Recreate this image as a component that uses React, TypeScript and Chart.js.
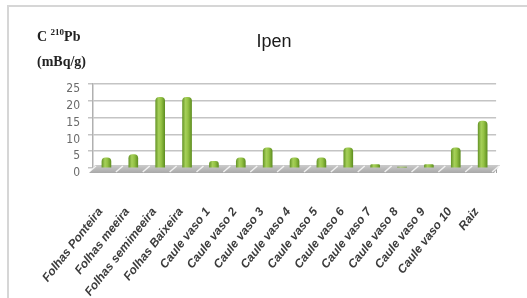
import React, { useEffect, useRef } from "react";
import { Chart, registerables } from "chart.js";

Chart.register(...registerables);

const categories = [
  "Folhas Ponteira",
  "Folhas meeira",
  "Folhas semimeeira",
  "Folhas Baixeira",
  "Caule vaso 1",
  "Caule vaso 2",
  "Caule vaso 3",
  "Caule vaso 4",
  "Caule vaso 5",
  "Caule vaso 6",
  "Caule vaso 7",
  "Caule vaso 8",
  "Caule vaso 9",
  "Caule vaso 10",
  "Raiz",
];
const pb210Values = [3, 4, 21, 21, 2, 3, 6, 3, 3, 6, 1, 0.3, 1, 6, 14];
const yTicks = [0, 5, 10, 15, 20, 25];
const chartTitle = "Ipen";
const yTitleLine1 = ["C ", "210", "Pb"];
const yTitleLine2 = "(mBq/g)";

const floorPlugin = {
  id: "floor3d",
  beforeDatasetsDraw(chart: any) {
    const { ctx, chartArea } = chart;
    const yb = chartArea.bottom;
    const d = 5;
    ctx.save();
    const g = ctx.createLinearGradient(0, yb - d, 0, yb + d);
    g.addColorStop(0, "#d4d4d4");
    g.addColorStop(1, "#a8a8a8");
    ctx.fillStyle = g;
    ctx.beginPath();
    ctx.moveTo(chartArea.left - 4, yb + d);
    ctx.lineTo(chartArea.right - 2, yb + d);
    ctx.lineTo(chartArea.right + 4, yb - d + 2);
    ctx.lineTo(chartArea.left + 2, yb - d + 2);
    ctx.closePath();
    ctx.fill();
    const xs = chart.scales.x;
    const step = xs.getPixelForValue(1) - xs.getPixelForValue(0);
    ctx.strokeStyle = "rgba(255,255,255,0.8)";
    ctx.lineWidth = 1.5;
    for (let i = 0; i <= categories.length; i++) {
      const px = xs.getPixelForValue(i) - step / 2;
      ctx.beginPath();
      ctx.moveTo(px - 4, yb + d - 1);
      ctx.lineTo(px + 3, yb - d + 3);
      ctx.stroke();
    }
    ctx.restore();
  },
};

const textPlugin = {
  id: "texts",
  afterDraw(chart: any) {
    const { ctx } = chart;
    ctx.save();
    ctx.fillStyle = "#1a1a1a";
    ctx.textBaseline = "alphabetic";
    ctx.textAlign = "center";
    ctx.font = "18px 'Liberation Sans', Arial, sans-serif";
    ctx.fillText(chartTitle, 274, 47);

    ctx.textAlign = "left";
    ctx.fillStyle = "#222";
    ctx.font = "bold 14px 'Liberation Serif', serif";
    let x = 37;
    ctx.fillText(yTitleLine1[0], x, 41);
    x += ctx.measureText(yTitleLine1[0]).width;
    ctx.font = "bold 9px 'Liberation Serif', serif";
    ctx.fillText(yTitleLine1[1], x, 35);
    x += ctx.measureText(yTitleLine1[1]).width;
    ctx.font = "bold 14px 'Liberation Serif', serif";
    ctx.fillText(yTitleLine1[2], x, 41);
    ctx.fillText(yTitleLine2, 37, 66);
    ctx.restore();
  },
};

export default function App() {
  const ref = useRef<HTMLCanvasElement | null>(null);

  useEffect(() => {
    document.body.style.margin = "0";
    const canvas = ref.current!;
    const chart = new Chart(canvas, {
      type: "bar",
      data: {
        labels: categories,
        datasets: [
          {
            data: pb210Values,
            barThickness: 9,
            borderRadius: { topLeft: 4, topRight: 4, bottomLeft: 0, bottomRight: 0 },
            borderSkipped: "bottom",
            borderWidth: 0,
            backgroundColor: (c: any) => {
              const ch = c.chart;
              const xs = ch.scales && ch.scales.x;
              if (!xs || !ch.chartArea) return "#8dbb3e";
              const px = xs.getPixelForValue(c.dataIndex);
              const g = ch.ctx.createLinearGradient(px - 5, 0, px + 5, 0);
              g.addColorStop(0, "#5f8f22");
              g.addColorStop(0.35, "#a6d05a");
              g.addColorStop(0.6, "#94c244");
              g.addColorStop(1, "#5a8a1e");
              return g;
            },
          },
        ],
      },
      options: {
        animation: false,
        responsive: false,
        maintainAspectRatio: false,
        layout: { padding: { left: 0, right: 30, top: 84, bottom: 0 } },
        plugins: {
          legend: { display: false },
          title: { display: false },
          tooltip: { enabled: false },
        },
        scales: {
          x: {
            offset: true,
            grid: {
              display: true,
              drawOnChartArea: false,
              offset: true,
              tickLength: 5,
              color: "#a0a0a0",
            },
            border: { display: false },
            ticks: {
              autoSkip: false,
              minRotation: 52,
              maxRotation: 52,
              padding: 32,
              labelOffset: -6,
              color: "#3c3c3c",
              font: { family: "'Liberation Sans', Arial, sans-serif", size: 12, weight: "bold", style: "italic" },
            },
            afterFit: (s: any) => {
              s.height = 130;
            },
          },
          y: {
            min: 0,
            max: 25,
            afterBuildTicks: (s: any) => {
              s.ticks = yTicks.map((v) => ({ value: v }));
            },
            grid: {
              color: "#c4c4c4",
              lineWidth: 1.5,
              tickLength: 5,
              drawTicks: true,
            },
            border: { display: true, color: "#b0b0b0", width: 1.5 },
            ticks: {
              autoSkip: false,
              padding: 8,
              labelOffset: 5,
              color: "#6a6a6a",
              font: { family: "'Liberation Sans Narrow', 'DejaVu Sans Condensed', sans-serif", size: 12 },
            },
            afterFit: (s: any) => {
              s.width = 93;
            },
          },
        },
      },
      plugins: [floorPlugin, textPlugin],
    });
    return () => chart.destroy();
  }, []);

  return (
    <div style={{ position: "fixed", left: 0, top: 0, width: 527, height: 298, overflow: "hidden", background: "#fff" }}>
      <div
        style={{
          position: "absolute",
          left: 7,
          top: 5,
          width: 600,
          height: 400,
          borderTop: "2px solid #d6d6d6",
          borderLeft: "2px solid #d6d6d6",
        }}
      />
      <canvas ref={ref} width={527} height={298} style={{ position: "absolute", left: 0, top: 0, width: 527, height: 298 }} />
    </div>
  );
}
